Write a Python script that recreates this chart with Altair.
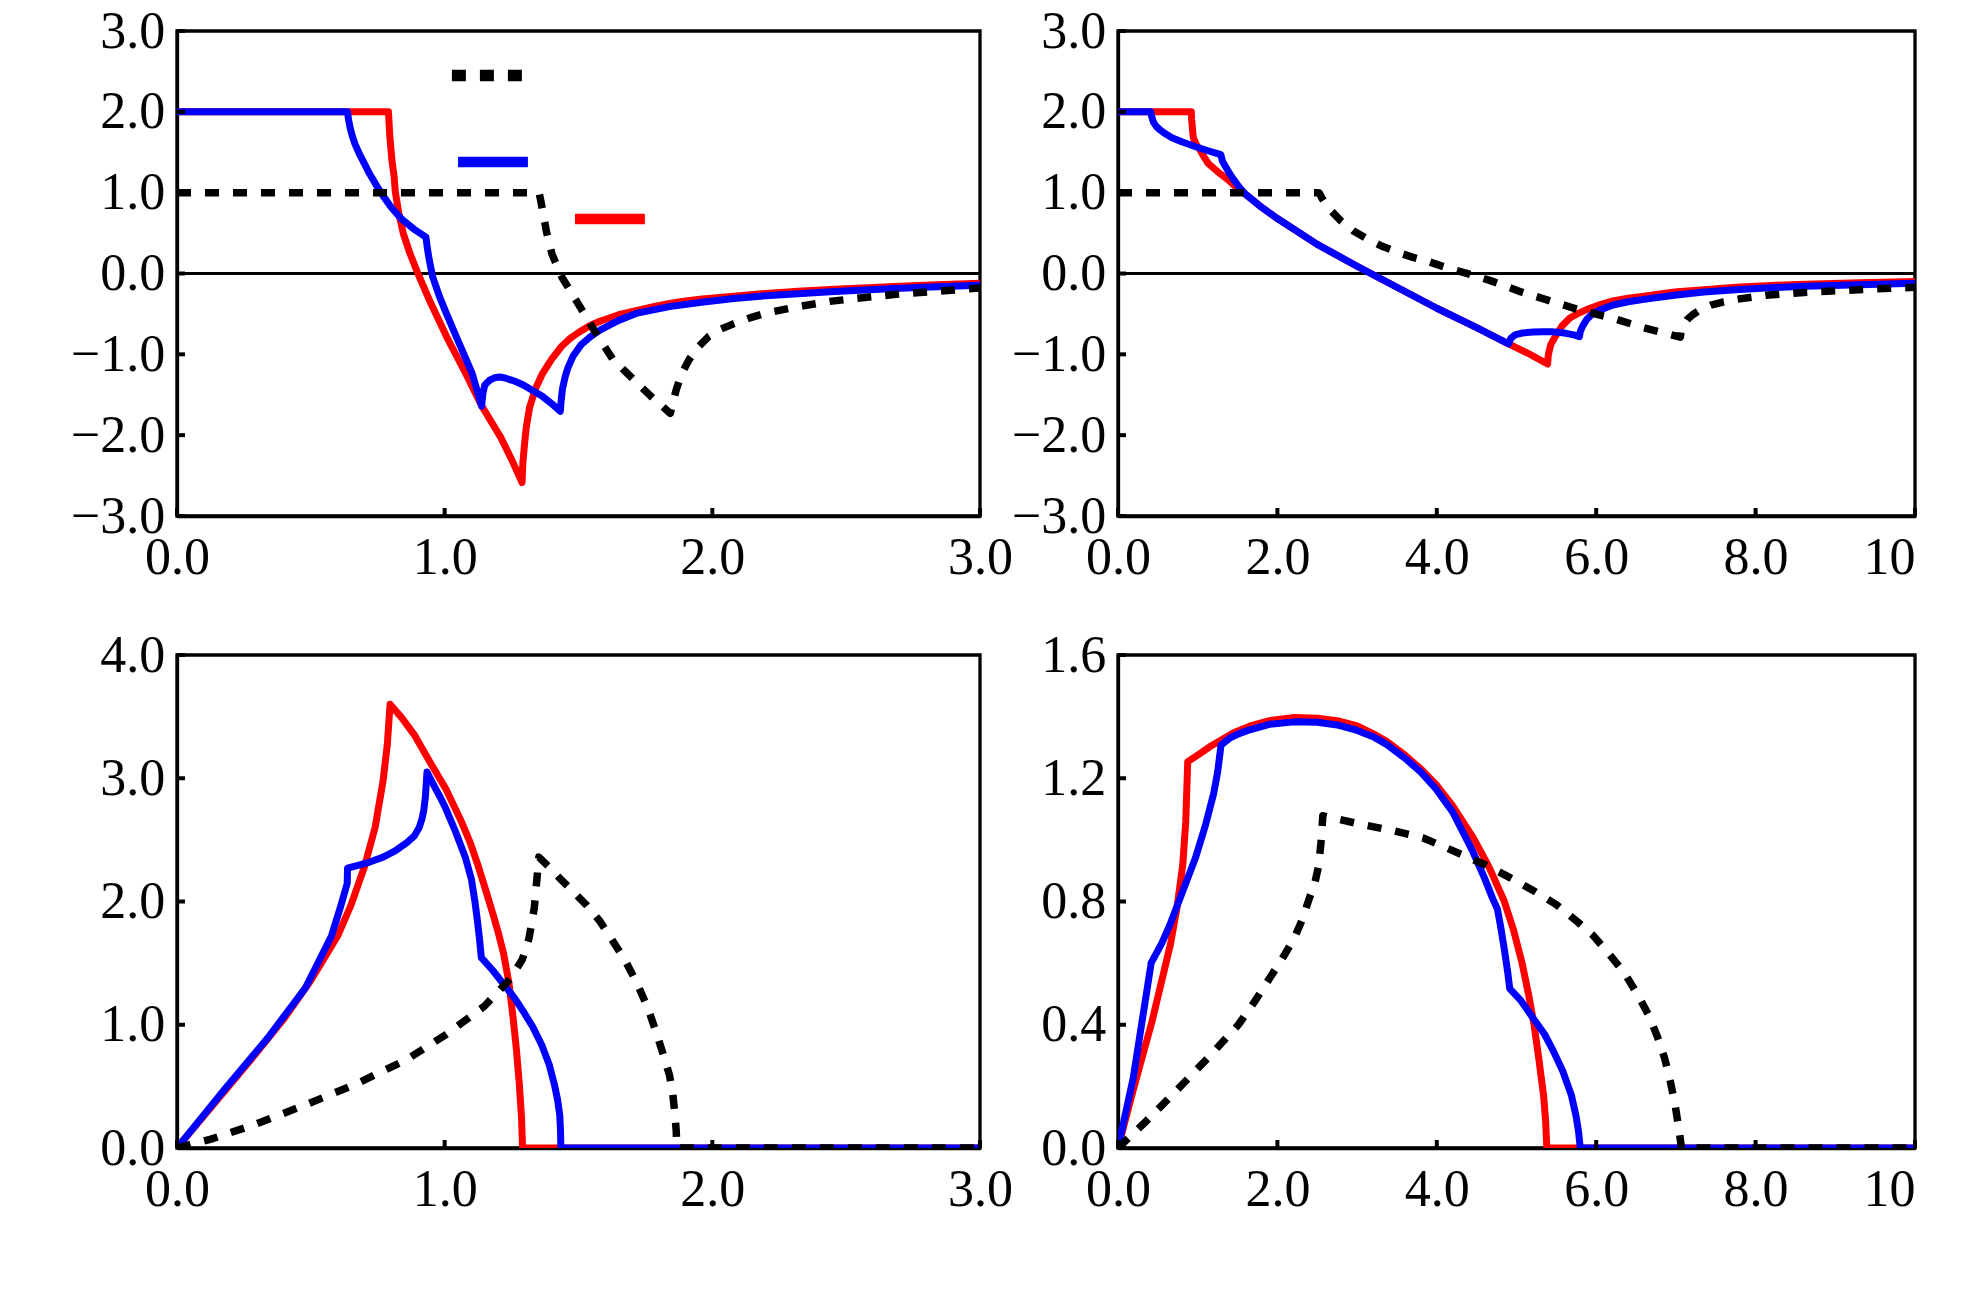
import altair as alt
import pandas as pd

# ---------------- data ----------------
# Panel (a): top-left, x 0..3, y -3..3
a_red_x = [0.0, 0.79, 0.795, 0.803, 0.811, 0.816, 0.83, 0.845, 0.87, 0.90, 0.947, 1.007, 1.079, 1.138, 1.21, 1.25, 1.289,
           1.292, 1.298, 1.305, 1.317, 1.34, 1.365, 1.40, 1.437, 1.47, 1.5, 1.54, 1.58, 1.65, 1.723, 1.78, 1.84, 1.9,
           1.962, 2.08, 2.2, 2.32, 2.439, 2.56, 2.678, 2.84, 3.0]
a_red_y = [2.0, 2.0, 1.7, 1.4, 1.2, 1.0, 0.72, 0.5, 0.25, 0.0, -0.36, -0.78, -1.24, -1.636, -2.03, -2.3, -2.586,
           -2.35, -2.12, -1.9, -1.66, -1.42, -1.24, -1.06, -0.90, -0.80, -0.73, -0.65, -0.59, -0.51, -0.454, -0.41, -0.37, -0.34,
           -0.315, -0.28, -0.246, -0.22, -0.199, -0.18, -0.162, -0.14, -0.12]
a_blue_x = [0.0, 0.637, 0.641, 0.647, 0.655, 0.665, 0.68, 0.70, 0.72, 0.745, 0.77, 0.80, 0.84, 0.885, 0.93, 0.935, 0.941,
            0.955, 0.98, 1.007, 1.055, 1.103, 1.138, 1.143, 1.15, 1.168, 1.186, 1.205, 1.222, 1.26, 1.294, 1.33, 1.365,
            1.40, 1.432, 1.435, 1.44, 1.45, 1.46, 1.48, 1.51, 1.545, 1.58, 1.65, 1.72, 1.84, 1.96, 2.08, 2.2, 2.44, 2.68,
            2.84, 3.0]
a_blue_y = [2.0, 2.0, 1.9, 1.8, 1.7, 1.6, 1.49, 1.36, 1.23, 1.09, 0.96, 0.82, 0.67, 0.55, 0.45, 0.32, 0.195,
            -0.04, -0.28, -0.5, -0.87, -1.24, -1.64, -1.48, -1.38, -1.32, -1.29, -1.28, -1.29, -1.33, -1.38, -1.45, -1.52,
            -1.61, -1.705, -1.58, -1.43, -1.28, -1.17, -1.02, -0.88, -0.78, -0.70, -0.58, -0.49, -0.41, -0.355, -0.31, -0.275,
            -0.225, -0.185, -0.165, -0.145]
a_black_x = [0.0, 1.353, 1.365, 1.38, 1.401, 1.437, 1.496, 1.556, 1.628, 1.699, 1.771, 1.843, 1.852, 1.866, 1.885, 1.914,
             1.95, 1.986, 2.03, 2.081, 2.14, 2.2, 2.32, 2.439, 2.56, 2.678, 2.84, 3.0]
a_black_y = [1.0, 1.0, 0.8, 0.52, 0.24, -0.04, -0.36, -0.69, -1.06, -1.29, -1.52, -1.73, -1.6, -1.43, -1.24, -1.06,
             -0.9, -0.78, -0.69, -0.62, -0.55, -0.49, -0.41, -0.345, -0.3, -0.26, -0.22, -0.18]

# legend samples (labels absent in the reference)
leg_black_x = [1.027, 1.293]
leg_black_y = [2.45, 2.45]
leg_blue_x = [1.05, 1.311]
leg_blue_y = [1.38, 1.38]
leg_red_x = [1.487, 1.748]
leg_red_y = [0.675, 0.675]

# Panel (b): top-right, x 0..10, y -3..3
b_red_x = [0.0, 0.92, 0.925, 0.935, 0.945, 0.98, 1.022, 1.08, 1.138, 1.25, 1.368, 1.48, 1.6, 1.8, 2.0, 2.5, 3.0, 3.5, 4.0,
           4.5, 4.9, 5.15, 5.39, 5.40, 5.43, 5.48, 5.57, 5.67, 5.78, 5.9, 6.05, 6.21, 6.4, 6.6, 6.98, 7.35, 7.75, 8.13, 8.52,
           9.3, 10.0]
b_red_y = [2.0, 2.0, 1.9, 1.78, 1.68, 1.6, 1.54, 1.44, 1.355, 1.26, 1.17, 1.07, 0.98, 0.82, 0.68, 0.36, 0.09, -0.17, -0.43,
           -0.67, -0.87, -0.99, -1.12, -1.0, -0.88, -0.79, -0.65, -0.55, -0.49, -0.44, -0.385, -0.34, -0.305, -0.28, -0.23,
           -0.2, -0.17, -0.15, -0.135, -0.115, -0.1]
b_blue_x = [0.0, 0.41, 0.42, 0.446, 0.48, 0.523, 0.6, 0.676, 0.8, 0.984, 1.14, 1.29, 1.30, 1.31, 1.33, 1.38, 1.445, 1.52,
            1.6, 1.8, 2.0, 2.5, 3.0, 3.5, 4.0, 4.5, 4.9, 4.93, 4.98, 5.08, 5.21, 5.33, 5.44, 5.55, 5.62, 5.72, 5.79, 5.8,
            5.83, 5.88, 5.94, 6.05, 6.21, 6.4, 6.6, 6.98, 7.35, 7.75, 8.13, 8.52, 9.3, 10.0]
b_blue_y = [2.0, 2.0, 1.95, 1.87, 1.82, 1.78, 1.725, 1.68, 1.63, 1.565, 1.515, 1.47, 1.43, 1.39, 1.355, 1.27, 1.17, 1.07,
            0.98, 0.82, 0.68, 0.36, 0.09, -0.17, -0.43, -0.67, -0.87, -0.8, -0.76, -0.735, -0.725, -0.72, -0.72, -0.73,
            -0.74, -0.76, -0.78, -0.72, -0.65, -0.57, -0.51, -0.45, -0.39, -0.35, -0.32, -0.27, -0.23, -0.2, -0.18, -0.16,
            -0.14, -0.12]
b_black_x = [0.0, 2.52, 2.54, 2.56, 2.6, 2.68, 2.79, 2.95, 3.136, 3.33, 3.52, 3.7, 3.905, 4.13, 4.366, 4.673, 5.058,
             5.442, 5.826, 6.21, 6.595, 7.056, 7.065, 7.09, 7.14, 7.21, 7.32, 7.44, 7.6, 7.75, 8.13, 8.52, 8.9, 9.29, 10.0]
b_black_y = [1.0, 1.0, 0.97, 0.93, 0.87, 0.77, 0.657, 0.53, 0.424, 0.33, 0.26, 0.2, 0.144, 0.07, 0.005, -0.088, -0.228,
             -0.345, -0.461, -0.554, -0.671, -0.787, -0.72, -0.65, -0.57, -0.51, -0.44, -0.39, -0.35, -0.32, -0.27, -0.24,
             -0.22, -0.2, -0.17]

# Panel (c): bottom-left, x 0..3, y 0..4
c_red_x = [0.0, 0.1, 0.2, 0.3, 0.4, 0.5, 0.6, 0.65, 0.7, 0.74, 0.77, 0.786, 0.796, 0.84, 0.886, 0.94, 1.005, 1.06, 1.095,
           1.125, 1.155, 1.18, 1.2, 1.22, 1.24, 1.256, 1.268, 1.279, 1.287, 1.291, 3.0]
c_red_y = [0.0, 0.26, 0.52, 0.78, 1.05, 1.36, 1.72, 1.97, 2.28, 2.6, 2.98, 3.28, 3.6, 3.49, 3.354, 3.15, 2.91, 2.66, 2.48,
           2.29, 2.08, 1.9, 1.75, 1.58, 1.34, 1.05, 0.8, 0.515, 0.25, 0.0, 0.0]
c_blue_x = [0.0, 0.172, 0.338, 0.48, 0.577, 0.61, 0.636, 0.637, 0.68, 0.72, 0.77, 0.815, 0.86, 0.886, 0.905, 0.915, 0.922,
            0.928, 0.934, 0.96, 0.985, 1.005, 1.04, 1.077, 1.1, 1.113, 1.122, 1.13, 1.137, 1.18, 1.22, 1.26, 1.291, 1.33,
            1.363, 1.39, 1.41, 1.422, 1.43, 1.433, 1.434, 3.0]
c_blue_y = [0.0, 0.46, 0.89, 1.30, 1.72, 1.95, 2.147, 2.27, 2.295, 2.32, 2.36, 2.41, 2.48, 2.53, 2.6, 2.67, 2.74,
            2.85, 3.05, 2.94, 2.84, 2.75, 2.57, 2.36, 2.18, 2.0, 1.85, 1.7, 1.544, 1.44, 1.33, 1.22, 1.118, 0.98,
            0.834, 0.68, 0.515, 0.39, 0.266, 0.13, 0.0, 0.0]
c_black_x = [0.0, 0.124, 0.29, 0.48, 0.67, 0.86, 1.005, 1.148, 1.244, 1.29, 1.315, 1.335, 1.352, 1.39, 1.434, 1.48, 1.53,
             1.58, 1.625, 1.675, 1.72, 1.76, 1.79, 1.815, 1.84, 1.852, 1.86, 1.865, 1.868, 3.0]
c_black_y = [0.0, 0.07, 0.19, 0.35, 0.52, 0.72, 0.92, 1.15, 1.37, 1.53, 1.7, 1.95, 2.36, 2.28, 2.18, 2.08, 1.97,
             1.84, 1.69, 1.52, 1.33, 1.13, 0.94, 0.77, 0.59, 0.44, 0.28, 0.14, 0.0, 0.0]

# Panel (d): bottom-right, x 0..10, y 0..1.6
d_red_x = [0.0, 0.193, 0.426, 0.658, 0.74, 0.813, 0.85, 0.875, 1.0, 1.15, 1.28, 1.45, 1.66, 1.9, 2.21, 2.5, 2.75, 3.0,
           3.2, 3.37, 3.6, 3.8, 3.99, 4.2, 4.45, 4.65, 4.84, 4.96, 5.07, 5.15, 5.22, 5.28, 5.34, 5.365, 5.38, 10.0]
d_red_y = [0.0, 0.19, 0.41, 0.661, 0.78, 0.92, 1.06, 1.254, 1.275, 1.302, 1.322, 1.348, 1.37, 1.387, 1.397, 1.395, 1.387,
           1.37, 1.345, 1.32, 1.275, 1.23, 1.18, 1.11, 1.01, 0.915, 0.805, 0.71, 0.6, 0.5, 0.4, 0.29, 0.17, 0.09, 0.0, 0.0]
d_blue_x = [0.0, 0.193, 0.41, 0.415, 0.55, 0.66, 0.97, 1.1, 1.2, 1.25, 1.293, 1.4, 1.52, 1.664, 1.9, 2.21, 2.5, 2.75, 3.0,
            3.2, 3.37, 3.6, 3.8, 3.99, 4.2, 4.45, 4.6, 4.7, 4.76, 4.8, 4.85, 4.89, 4.915, 5.05, 5.22, 5.35, 5.46, 5.58,
            5.69, 5.75, 5.78, 5.8, 10.0]
d_blue_y = [0.0, 0.23, 0.59, 0.6, 0.665, 0.73, 0.94, 1.05, 1.15, 1.22, 1.308, 1.33, 1.345, 1.358, 1.375, 1.383, 1.382,
            1.373, 1.355, 1.335, 1.31, 1.265, 1.22, 1.165, 1.09, 0.963, 0.875, 0.81, 0.776, 0.72, 0.64, 0.57, 0.5175,
            0.48, 0.417, 0.37, 0.316, 0.25, 0.17, 0.1, 0.05, 0.0, 0.0]
d_black_x = [0.0, 0.35, 0.735, 1.12, 1.51, 1.7, 1.9, 2.05, 2.21, 2.31, 2.4, 2.47, 2.52, 2.55, 2.57, 3.06, 3.45, 3.83, 4.2,
             4.6, 4.9, 5.22, 5.5, 5.77, 5.96, 6.15, 6.35, 6.54, 6.66, 6.77, 6.86, 6.93, 6.99, 7.04, 7.07, 10.0]
d_black_y = [0.0, 0.086, 0.187, 0.29, 0.40, 0.47, 0.55, 0.61, 0.68, 0.74, 0.81, 0.86, 0.92, 1.0, 1.078, 1.05, 1.03, 1.006,
             0.965, 0.92, 0.88, 0.834, 0.79, 0.733, 0.69, 0.633, 0.57, 0.489, 0.43, 0.36, 0.29, 0.216, 0.14, 0.058, 0.0, 0.0]

zero_line = [0.0]

ticks_x3 = [0.0, 1.0, 2.0, 3.0]
ticks_x10 = [0.0, 2.0, 4.0, 6.0, 8.0, 10.0]
ticks_y6 = [-3.0, -2.0, -1.0, 0.0, 1.0, 2.0, 3.0]
ticks_y4 = [0.0, 1.0, 2.0, 3.0, 4.0]
ticks_y16 = [0.0, 0.4, 0.8, 1.2, 1.6]

# ---------------- styles ----------------
STYLE = {
    "red": dict(color="#ff0000", strokeWidth=7),
    "blue": dict(color="#0000ff", strokeWidth=7),
    "black": dict(color="#000000", strokeWidth=7.5, strokeDash=[14, 14]),
}
LEG_STYLE = {
    "red": dict(color="#ff0000", strokeWidth=10.5),
    "blue": dict(color="#0000ff", strokeWidth=10.5),
    "black": dict(color="#000000", strokeWidth=11.5, strokeDash=[14, 14]),
}


def make_panel(curves, xdom, ydom, xvals, yvals, width, height, ten=False, zero=False, legend=None):
    xs = alt.Scale(domain=xdom, nice=False, zero=False)
    ys = alt.Scale(domain=ydom, nice=False, zero=False)
    if ten:
        xaxis = alt.Axis(values=xvals, title=None,
                         labelExpr="datum.value == 10 ? '10' : format(datum.value, '.1f')",
                         labelAlign={"condition": {"test": "datum.value == 10", "value": "right"},
                                     "value": "center"})
    else:
        xaxis = alt.Axis(values=xvals, title=None, format=".1f")
    yaxis = alt.Axis(values=yvals, title=None, format=".1f")

    def X():
        return alt.X("x:Q", scale=xs, axis=xaxis)

    def Y():
        return alt.Y("y:Q", scale=ys, axis=yaxis)

    layers = []
    if zero:
        layers.append(alt.Chart(pd.DataFrame({"y": zero_line})).mark_rule(color="black", strokeWidth=3)
                      .encode(y=Y()))
    for name, cx, cy in curves:
        df = pd.DataFrame({"x": cx, "y": cy, "i": list(range(len(cx)))})
        layers.append(alt.Chart(df).mark_line(clip=True, strokeJoin="round", **STYLE[name])
                      .encode(x=X(), y=Y(), order=alt.Order("i:Q")))
    if legend:
        for name, lx, ly in legend:
            df = pd.DataFrame({"x": lx, "y": ly, "i": list(range(len(lx)))})
            layers.append(alt.Chart(df).mark_line(strokeCap="butt", **LEG_STYLE[name])
                          .encode(x=X(), y=Y(), order=alt.Order("i:Q")))
    # inward ticks
    layers.append(alt.Chart(pd.DataFrame({"x": xvals})).mark_rule(color="black", strokeWidth=4)
                  .encode(x=X(), y=alt.value(height), y2=alt.value(height - 8)))
    layers.append(alt.Chart(pd.DataFrame({"y": yvals})).mark_rule(color="black", strokeWidth=4)
                  .encode(y=Y(), x=alt.value(0), x2=alt.value(8)))
    return alt.layer(*layers).properties(width=width, height=height)


tl = make_panel([("red", a_red_x, a_red_y), ("blue", a_blue_x, a_blue_y), ("black", a_black_x, a_black_y)],
                [0, 3], [-3, 3], ticks_x3, ticks_y6, 803, 485, zero=True,
                legend=[("black", leg_black_x, leg_black_y), ("blue", leg_blue_x, leg_blue_y),
                        ("red", leg_red_x, leg_red_y)])
tr = make_panel([("red", b_red_x, b_red_y), ("blue", b_blue_x, b_blue_y), ("black", b_black_x, b_black_y)],
                [0, 10], [-3, 3], ticks_x10, ticks_y6, 797, 485, ten=True, zero=True)
bl = make_panel([("red", c_red_x, c_red_y), ("blue", c_blue_x, c_blue_y), ("black", c_black_x, c_black_y)],
                [0, 3], [0, 4], ticks_x3, ticks_y4, 803, 493)
br = make_panel([("red", d_red_x, d_red_y), ("blue", d_blue_x, d_blue_y), ("black", d_black_x, d_black_y)],
                [0, 10], [0, 1.6], ticks_x10, ticks_y16, 797, 493, ten=True)

chart = alt.concat(tl, tr, bl, br, columns=2, spacing={"row": 139, "column": 138},
                   align="each", bounds="flush").properties(
    padding={"left": 60, "top": -5, "right": 5, "bottom": 5}
).configure_view(
    stroke="black", strokeWidth=3.3
).configure_axis(
    labelFont="Liberation Serif", labelFontSize=52, labelColor="black",
    domainColor="black", domainWidth=3.3, grid=False, ticks=False, tickSize=0,
    labelFlush=False, labelOverlap=False, zindex=1
).configure_axisX(
    labelPadding=16.5
).configure_axisY(
    labelPadding=12.3
)

chart.save("out.html", embed_options={"renderer": "svg", "actions": False})
